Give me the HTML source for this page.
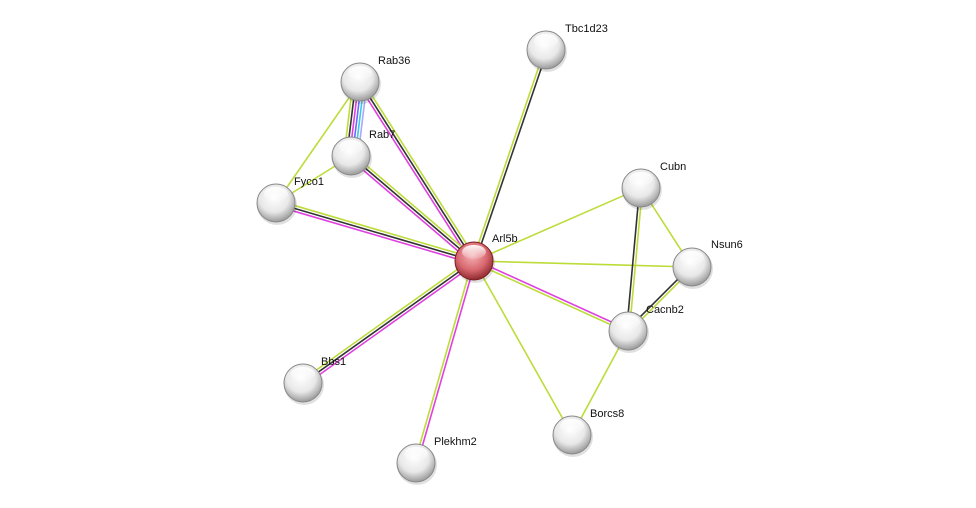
<!DOCTYPE html>
<html><head><meta charset="utf-8"><style>
html,body{margin:0;padding:0;background:#fff;width:976px;height:508px;overflow:hidden}
svg text{font-family:"Liberation Sans",sans-serif;font-size:11px;fill:#111}
</style></head><body>
<svg id="s" width="976" height="508" xmlns="http://www.w3.org/2000/svg">
<defs>
<radialGradient id="g" cx="0.45" cy="0.35" r="0.65"><stop offset="0" stop-color="#fff"/><stop offset="0.6" stop-color="#e8e8e8"/><stop offset="1" stop-color="#9a9a9a"/></radialGradient>
<radialGradient id="r" cx="0.45" cy="0.35" r="0.65"><stop offset="0" stop-color="#f4b4b8"/><stop offset="0.6" stop-color="#d9686f"/><stop offset="1" stop-color="#8e2a30"/></radialGradient>
<linearGradient id="h" x1="0" y1="0" x2="0" y2="1"><stop offset="0" stop-color="#fff" stop-opacity="0.95"/><stop offset="1" stop-color="#fff" stop-opacity="0.1"/></linearGradient>
</defs>
<g id="e"></g><g id="n"></g>
</svg>
<script>
var N={Arl5b:[474,261],Tbc1d23:[546,50],Rab36:[360,82],Rab7:[351,156],Fyco1:[276,203],Cubn:[641,188],Nsun6:[692,267],Cacnb2:[628,331],Borcs8:[572,435],Plekhm2:[416,463],Bbs1:[303,383]};
var Y="#bcdc3a",M="#e040e0",K="#333",B="#6a6aff",C="#3cc8e8",L="#a8a8ff";
var E=[["Arl5b","Tbc1d23",[Y,K]],["Arl5b","Rab36",[M,K,Y]],["Arl5b","Rab7",[M,K,Y]],["Arl5b","Fyco1",[M,K,Y]],["Arl5b","Bbs1",[M,K,Y]],["Arl5b","Plekhm2",[M,Y]],["Arl5b","Cacnb2",[M,Y]],["Arl5b","Cubn",[Y]],["Arl5b","Nsun6",[Y]],["Arl5b","Borcs8",[Y]],["Rab36","Rab7",[L,C,B,M,K,Y]],["Rab36","Fyco1",[Y]],["Rab7","Fyco1",[Y]],["Cubn","Cacnb2",[Y,K]],["Cubn","Nsun6",[Y]],["Nsun6","Cacnb2",[Y,K]],["Cacnb2","Borcs8",[Y]]];
var ns="http://www.w3.org/2000/svg",eg=document.getElementById("e"),ng=document.getElementById("n");
function el(t,a,p){var x=document.createElementNS(ns,t);for(var k in a)x.setAttribute(k,a[k]);p.appendChild(x);return x;}
E.forEach(function(e){var a=N[e[0]],b=N[e[1]],dx=b[0]-a[0],dy=b[1]-a[1],l=Math.hypot(dx,dy),px=-dy/l,py=dx/l,n=e[2].length;
e[2].forEach(function(c,i){var o=(i-(n-1)/2)*2.8;el("line",{x1:a[0]+px*o,y1:a[1]+py*o,x2:b[0]+px*o,y2:b[1]+py*o,stroke:c,"stroke-width":1.6},eg);});});
var lab={Arl5b:[492,238],Tbc1d23:[565,28],Rab36:[378,60],Rab7:[369,134],Fyco1:[294,181],Cubn:[660,166],Nsun6:[711,244],Cacnb2:[646,309],Borcs8:[590,413],Plekhm2:[434,441],Bbs1:[321,361]};
for(var k in N){var p=N[k];
el("circle",{cx:p[0]+1,cy:p[1]+2,r:20,fill:"#000",opacity:0.12},ng);
el("circle",{cx:p[0],cy:p[1],r:19,fill:k=="Arl5b"?"url(#r)":"url(#g)",stroke:k=="Arl5b"?"#7a1f25":"#888","stroke-width":1},ng);
el("ellipse",{cx:p[0],cy:p[1]-9,rx:12,ry:7,fill:"url(#h)"},ng);
var t=el("text",{x:lab[k][0],y:lab[k][1]+4},ng);t.textContent=k;}
</script>
</body></html>
